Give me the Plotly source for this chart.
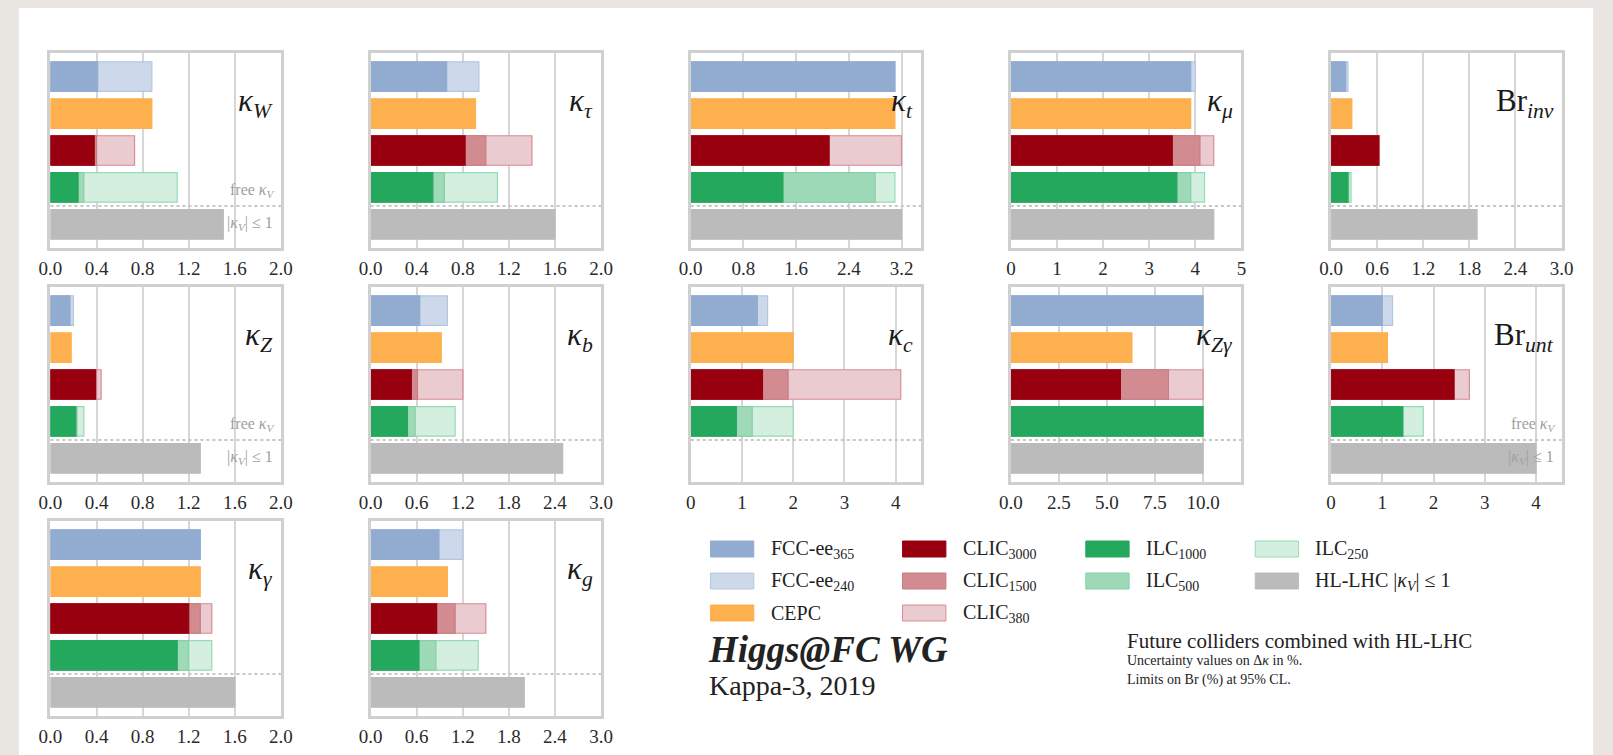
import plotly.graph_objects as go

W, H = 1613, 755

# ---------------- data ----------------
panels = ["kW", "ktau", "kt", "kmu", "Brinv", "kZ", "kb", "kc", "kZg", "Brunt", "kgam", "kg"]
panel_labels = ["<i>κ<sub>W</sub></i>", "<i>κ<sub>τ</sub></i>", "<i>κ<sub>t</sub></i>", "<i>κ<sub>μ</sub></i>",
                "Br<sub><i>inv</i></sub>", "<i>κ<sub>Z</sub></i>", "<i>κ<sub>b</sub></i>", "<i>κ<sub>c</sub></i>",
                "<i>κ<sub>Zγ</sub></i>", "Br<sub><i>unt</i></sub>", "<i>κ<sub>γ</sub></i>", "<i>κ<sub>g</sub></i>"]
#                kW    ktau  kt   kmu  Brinv  kZ    kb    kc    kZg   Brunt kgam  kg
fcc365   = [0.41, 0.66, 3.1, 3.9, 0.19, 0.17, 0.64, 1.3,  10.0, 1.0, 1.3, 0.89]
fcc240   = [0.88, 0.94, 3.1, 4.0, 0.22, 0.20, 1.0,  1.5,  10.0, 1.2, 1.3, 1.2]
cepc     = [0.88, 0.91, 3.1, 3.9, 0.27, 0.18, 0.92, 2.0,  6.3,  1.1, 1.3, 1.0]
clic3000 = [0.38, 0.82, 2.1, 3.5, 0.62, 0.39, 0.53, 1.4,  5.7,  2.4, 1.2, 0.86]
clic1500 = [0.40, 1.0,  2.1, 4.1, 0.62, 0.40, 0.61, 1.9,  8.2,  2.4, 1.3, 1.1]
clic380  = [0.73, 1.4,  3.2, 4.4, 0.63, 0.44, 1.2,  4.1,  10.0, 2.7, 1.4, 1.5]
ilc1000  = [0.24, 0.54, 1.4, 3.6, 0.22, 0.22, 0.48, 0.89, 10.0, 1.4, 1.1, 0.63]
ilc500   = [0.29, 0.64, 2.8, 3.9, 0.23, 0.23, 0.58, 1.2,  10.0, 1.4, 1.2, 0.85]
ilc250   = [1.1,  1.1,  3.1, 4.2, 0.26, 0.29, 1.1,  2.0,  10.0, 1.8, 1.4, 1.4]
hllhc    = [1.5,  1.6,  3.2, 4.4, 1.9,  1.3,  2.5,  None, 10.0, 4.0, 1.6, 2.0]

# axis settings per panel
x_max     = [2.0, 2.0, 3.5, 5.0, 3.0, 2.0, 3.0, 4.5, 12.0, 4.5, 2.0, 3.0]
x_dtick   = [0.4, 0.4, 0.8, 1.0, 0.6, 0.4, 0.6, 1.0, 2.5,  1.0, 0.4, 0.6]
x_format  = [".1f", ".1f", ".1f", "d", ".1f", ".1f", ".1f", "d", ".1f", "d", ".1f", ".1f"]
free_kv_panels = ["kW", "kZ", "Brunt"]

# series, drawn back to front within each group
series_names  = ["FCC-ee<sub>240</sub>", "FCC-ee<sub>365</sub>", "CEPC",
                 "CLIC<sub>380</sub>", "CLIC<sub>1500</sub>", "CLIC<sub>3000</sub>",
                 "ILC<sub>250</sub>", "ILC<sub>500</sub>", "ILC<sub>1000</sub>",
                 "HL-LHC |<i>κ<sub>V</sub></i>| ≤ 1"]
series_values = [fcc240, fcc365, cepc, clic380, clic1500, clic3000, ilc250, ilc500, ilc1000, hllhc]
series_row    = [0, 0, 1, 2, 2, 2, 3, 3, 3, 4]
series_fill   = ["#cdd9ea", "#92acd1", "#fdb04d", "#eacbcf", "#d28c91", "#98000f",
                 "#d4efe0", "#9edab7", "#24a85d", "#bbbbbb"]
series_edge   = ["#b4c7e2", "#92acd1", "#fdb04d", "#d88c95", "#c77b82", "#98000f",
                 "#94dcb3", "#86d0a5", "#24a85d", "#bbbbbb"]

# legend (column-major order as in reference): (label, series index)
legend_cols = [
    [(series_names[1], 1), (series_names[0], 0), (series_names[2], 2)],
    [(series_names[5], 5), (series_names[4], 4), (series_names[3], 3)],
    [(series_names[8], 8), (series_names[7], 7)],
    [(series_names[6], 6), (series_names[9], 9)],
]

# ---------------- layout geometry (pixels) ----------------
col_left = [39, 364, 689, 1014, 1339]
row_top = [53, 287, 521]
pw, ph = 234, 195
FONT = "Liberation Serif"

def px(x):
    return x / W

def py(y):
    return 1 - y / H

fig = go.Figure()
layout = dict(
    width=W, height=H, margin=dict(l=0, r=0, t=0, b=0),
    paper_bgcolor="#e9e6e1", plot_bgcolor="white",
    barmode="overlay", showlegend=False,
    font=dict(family=FONT, color="#222"),
)
shapes, annotations = [], []

# white card
shapes.append(dict(type="rect", xref="paper", yref="paper", x0=px(7), x1=px(1605), y0=-0.01, y1=py(8),
                   fillcolor="white", line=dict(width=0), layer="below"))

for p, name in enumerate(panels):
    n = p + 1
    r, c = divmod(p, 5)
    L, T = col_left[c], row_top[r]
    xa = "xaxis" if n == 1 else f"xaxis{n}"
    ya = "yaxis" if n == 1 else f"yaxis{n}"
    xr = "x" if n == 1 else f"x{n}"
    yr = "y" if n == 1 else f"y{n}"
    layout[xa] = dict(domain=[px(L), px(L + pw)], anchor=yr, range=[0, x_max[p]],
                      tick0=0, dtick=x_dtick[p], tickformat=x_format[p],
                      showgrid=True, gridcolor="#d6d6d6", gridwidth=2, zeroline=False,
                      showline=True, mirror=True, linecolor="#d0d0d0", linewidth=2.5,
                      ticks="outside", ticklen=1, tickcolor="rgba(0,0,0,0)",
                      tickfont=dict(family=FONT, size=19, color="#2a2a2a"), fixedrange=True)
    layout[ya] = dict(domain=[py(T + ph), py(T)], anchor=xr, range=[4.64, -0.64],
                      showgrid=False, zeroline=False, showticklabels=False, ticks="",
                      showline=True, mirror=True, linecolor="#d0d0d0", linewidth=2.5, fixedrange=True)
    for s in range(len(series_values)):
        v = series_values[s][p]
        if v is None:
            continue
        fig.add_trace(go.Bar(x=[v], y=[series_row[s]], orientation="h", width=0.8,
                             marker=dict(color=series_fill[s], line=dict(color=series_edge[s], width=1.2)),
                             xaxis=xr, yaxis=yr, hoverinfo="skip"))
    # dotted separator
    shapes.append(dict(type="line", xref=f"{xr} domain", yref=yr, x0=0, x1=1, y0=3.5, y1=3.5,
                       line=dict(color="#c6c6c6", width=2, dash="dot")))
    # panel label
    annotations.append(dict(text=panel_labels[p], xref=f"{xr} domain", yref=yr, x=1, y=0.72,
                            xanchor="right", yanchor="middle", xshift=-6, showarrow=False,
                            font=dict(family=FONT, size=31, color="#1a1a1a")))
    if name in free_kv_panels:
        annotations.append(dict(text="free <i>κ<sub>V</sub></i>", xref=f"{xr} domain", yref=yr, x=1, y=3.08,
                                xanchor="right", yanchor="middle", xshift=-4, showarrow=False,
                                font=dict(family=FONT, size=16, color="#a0a0a0")))
        annotations.append(dict(text="|<i>κ<sub>V</sub></i>| ≤ 1", xref=f"{xr} domain", yref=yr, x=1, y=3.97,
                                xanchor="right", yanchor="middle", xshift=-6, showarrow=False,
                                font=dict(family=FONT, size=16, color="#a0a0a0")))

# legend drawn manually
leg_col_x = [709, 904, 1090, 1262]
leg_row_y = [549, 581, 613]
sw_w, sw_h = 44, 16
for ci, col in enumerate(legend_cols):
    for ri, (label, s) in enumerate(col):
        x0 = leg_col_x[ci]
        yc = leg_row_y[ri]
        shapes.append(dict(type="rect", xref="paper", yref="paper",
                           x0=px(x0), x1=px(x0 + sw_w), y0=py(yc + sw_h / 2), y1=py(yc - sw_h / 2),
                           fillcolor=series_fill[s], line=dict(color=series_edge[s], width=1)))
        annotations.append(dict(text=label, xref="paper", yref="paper", x=px(x0 + 59), y=py(yc),
                                xanchor="left", yanchor="middle", showarrow=False,
                                font=dict(family=FONT, size=20, color="#222")))

annotations.append(dict(text="<b><i>Higgs@FC WG</i></b>", xref="paper", yref="paper", x=px(706), y=py(649),
                        xanchor="left", yanchor="middle", showarrow=False, borderpad=0,
                        font=dict(family=FONT, size=37, color="#222")))
annotations.append(dict(text="Kappa-3, 2019", xref="paper", yref="paper", x=px(707), y=py(685),
                        xanchor="left", yanchor="middle", showarrow=False, borderpad=0,
                        font=dict(family=FONT, size=28, color="#222")))
annotations.append(dict(text="Future colliders combined with HL-LHC", xref="paper", yref="paper",
                        x=px(1130), y=py(641), xanchor="left", yanchor="middle", showarrow=False,
                        font=dict(family=FONT, size=21, color="#222")))
annotations.append(dict(text="Uncertainty values on Δ<i>κ</i> in %.", xref="paper", yref="paper",
                        x=px(1130), y=py(660), xanchor="left", yanchor="middle", showarrow=False,
                        font=dict(family=FONT, size=14, color="#222")))
annotations.append(dict(text="Limits on Br (%) at 95% CL.", xref="paper", yref="paper",
                        x=px(1130), y=py(680), xanchor="left", yanchor="middle", showarrow=False,
                        font=dict(family=FONT, size=14, color="#222")))

layout["shapes"] = shapes
layout["annotations"] = annotations
fig.update_layout(**layout)
fig.write_html("out.html", config={"displayModeBar": False})
